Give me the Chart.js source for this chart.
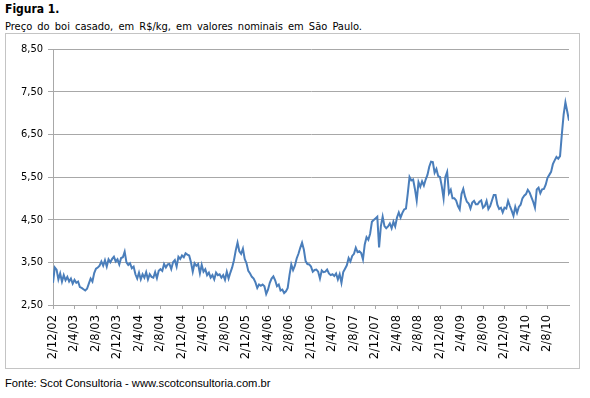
<!DOCTYPE html>
<html>
<head>
<meta charset="utf-8">
<script src="https://cdn.jsdelivr.net/npm/chart.js@4"></script>
<style>
  body { margin: 0; background: #fff; width: 590px; height: 398px; overflow: hidden; position: relative; }
  .txt { position: absolute; left: 5px; color: #000; white-space: nowrap; }
  #titulo { top: 2px; font: bold 12px "DejaVu Sans Condensed", "DejaVu Sans", sans-serif; }
  #subtitulo { top: 20px; font: 11px "DejaVu Sans Condensed", "DejaVu Sans", sans-serif; word-spacing: 2px; }
  #fonte { top: 377px; font: 11.2px "Liberation Sans", sans-serif; }
  #caixa { position: absolute; left: 5px; top: 33px; width: 573px; height: 334px; border: 1px solid #c4c4c4; }
</style>
</head>
<body>
<div id="titulo" class="txt">Figura 1.</div>
<div id="subtitulo" class="txt">Preço do boi casado, em R$/kg, em valores nominais em São Paulo.</div>
<div id="caixa"><canvas id="grafico"></canvas></div>
<div id="fonte" class="txt">Fonte: Scot Consultoria - www.scotconsultoria.com.br</div>

<script>
// Preço do boi casado (R$/kg), três leituras por mês a partir de dez/2002
const preco2002 = [3.02, 3.38, 3.33];
const preco2003 = [
  3.10, 3.24, 3.05, 3.20, 3.08, 3.16, 3.05, 3.12, 3.00, 3.09, 3.02, 3.05,
  2.92, 2.90, 2.87, 2.84, 2.88, 3.00, 3.12, 3.05, 3.25, 3.35, 3.38, 3.42,
  3.52, 3.42, 3.55, 3.40, 3.57, 3.50, 3.58, 3.63, 3.52, 3.57, 3.45, 3.60
];
const preco2004 = [
  3.62, 3.75, 3.50, 3.44, 3.48, 3.36, 3.40, 3.22, 3.12, 3.26, 3.10, 3.22,
  3.14, 3.27, 3.10, 3.22, 3.16, 3.14, 3.27, 3.13, 3.30, 3.34, 3.30, 3.46,
  3.38, 3.45, 3.46, 3.34, 3.50, 3.55, 3.40, 3.63, 3.58, 3.66, 3.62, 3.71
];
const preco2005 = [
  3.68, 3.66, 3.50, 3.28, 3.48, 3.42, 3.46, 3.24, 3.44, 3.28, 3.34, 3.20,
  3.26, 3.14, 3.20, 3.10, 3.26, 3.20, 3.22, 3.14, 3.20, 3.09, 3.28, 3.12,
  3.26, 3.38, 3.55, 3.78, 3.96, 3.76, 3.70, 3.82, 3.58, 3.48, 3.30, 3.24
];
const preco2006 = [
  3.16, 3.12, 3.03, 2.90, 2.98, 2.95, 2.98, 2.94, 2.76, 2.86, 3.02, 3.12,
  3.17, 3.08, 2.94, 2.98, 2.84, 2.86, 2.78, 2.82, 2.90, 3.20, 3.45, 3.32,
  3.42, 3.59, 3.70, 3.84, 3.96, 3.80, 3.53, 3.46, 3.45, 3.40, 3.28, 3.32
];
const preco2007 = [
  3.33, 3.28, 3.12, 3.31, 3.27, 3.28, 3.33, 3.24, 3.20, 3.22, 3.18, 3.24,
  3.10, 3.22, 3.02, 3.27, 3.35, 3.43, 3.60, 3.52, 3.65, 3.70, 3.84, 3.74,
  3.76, 3.72, 3.57, 3.92, 4.09, 4.03, 4.17, 4.45, 4.49, 4.53, 4.57, 3.85
];
const preco2008 = [
  4.35, 4.57, 4.35, 4.30, 4.34, 4.41, 4.30, 4.45, 4.34, 4.55, 4.67, 4.55,
  4.66, 4.74, 4.76, 5.11, 5.50, 5.42, 5.44, 5.22, 4.95, 5.38, 5.27, 5.40,
  5.30, 5.44, 5.55, 5.74, 5.86, 5.85, 5.60, 5.69, 5.52, 5.50, 5.28, 5.00
];
const preco2009 = [
  5.50, 5.62, 5.12, 5.20, 5.00, 5.00, 4.95, 4.82, 4.74, 5.10, 5.22, 5.04,
  4.92, 4.88, 4.76, 4.90, 4.94, 4.86, 4.86, 4.92, 4.95, 4.78, 4.82, 4.94,
  4.75, 4.82, 4.95, 5.08, 5.08, 4.85, 4.75, 4.78, 4.67, 4.78, 4.76, 4.94
];
const preco2010 = [
  4.82, 4.71, 4.59, 4.80, 4.66, 4.80, 4.85, 5.00, 5.06, 5.10, 5.20, 5.14,
  5.03, 4.92, 4.78, 5.21, 5.25, 5.12, 5.21, 5.22, 5.32, 5.48, 5.55, 5.62,
  5.80, 5.89, 5.97, 5.93, 5.99, 6.50, 6.96, 7.25, 7.04, 6.82
];

// Rótulos do eixo x, um a cada 4 meses
const rotulosX = [
  '2/12/02', '2/4/03', '2/8/03', '2/12/03', '2/4/04', '2/8/04', '2/12/04', '2/4/05',
  '2/8/05', '2/12/05', '2/4/06', '2/8/06', '2/12/06', '2/4/07', '2/8/07', '2/12/07',
  '2/4/08', '2/8/08', '2/12/08', '2/4/09', '2/8/09', '2/12/09', '2/4/10', '2/8/10'
];
const rotulosY = [2.5, 3.5, 4.5, 5.5, 6.5, 7.5, 8.5];

const precos = [].concat(preco2002, preco2003, preco2004, preco2005,
  preco2006, preco2007, preco2008, preco2009, preco2010);

// x em meses desde dez/2002
const pontos = precos.map((v, i) => ({ x: i / 3, y: v }));

const familia = '"DejaVu Sans Condensed", "DejaVu Sans", sans-serif';
const cinza = '#a8a8a8';

new Chart(document.getElementById('grafico'), {
  type: 'line',
  data: {
    datasets: [{
      data: pontos,
      borderColor: '#4a7ebb',
      borderWidth: 2,
      pointRadius: 0,
      tension: 0,
      fill: false
    }]
  },
  options: {
    responsive: true,
    maintainAspectRatio: false,
    animation: false,
    layout: { padding: { top: 15, right: 10, bottom: 0, left: 0 } },
    plugins: { legend: { display: false }, tooltip: { enabled: false } },
    scales: {
      x: {
        type: 'linear',
        min: 0,
        max: 96,
        afterFit: s => { s.height = 63; },
        grid: { drawOnChartArea: false, color: cinza, tickLength: 4 },
        border: { color: cinza },
        ticks: {
          stepSize: 4,
          autoSkip: false,
          minRotation: 90,
          maxRotation: 90,
          padding: 6,
          color: '#000',
          font: { family: '"DejaVu Sans", sans-serif', size: 11.5 },
          callback: v => rotulosX[Math.round(v / 4)]
        }
      },
      y: {
        min: rotulosY[0],
        max: rotulosY[rotulosY.length - 1],
        afterFit: s => { s.width = 47; },
        grid: { color: cinza, tickLength: 5 },
        border: { color: cinza },
        ticks: {
          stepSize: 1,
          padding: 5,
          color: '#000',
          font: { family: familia, size: 11 },
          callback: v => v.toFixed(2).replace('.', ',')
        }
      }
    }
  }
});
</script>
</body>
</html>
